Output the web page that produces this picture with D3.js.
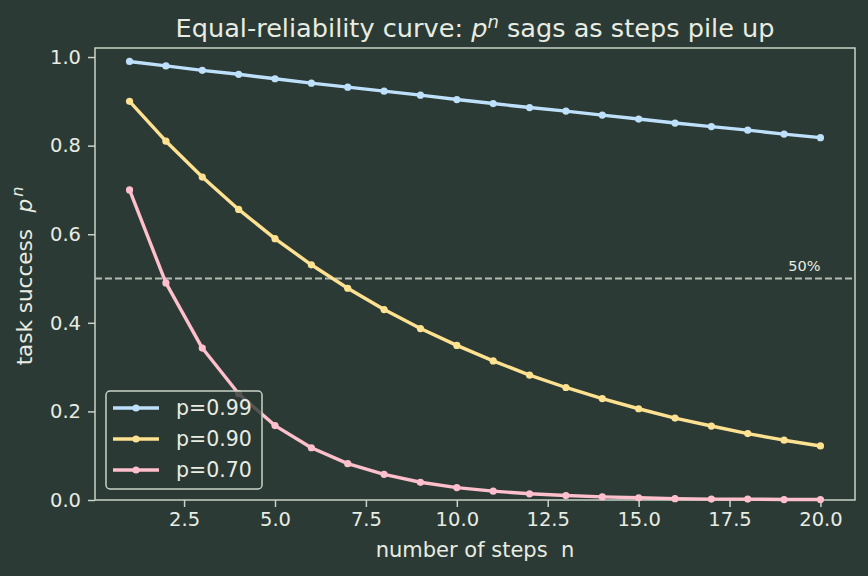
<!DOCTYPE html>
<html>
<head>
<meta charset="utf-8">
<style>
  body { margin: 0; background: #2b3a34; }
  text { font-family: "DejaVu Sans", sans-serif; white-space: pre; }
</style>
</head>
<body>
<div id="chart"></div>
<script src="https://d3js.org/d3.v7.min.js"></script>
<script>
// values
var steps = [1, 2, 3, 4, 5, 6, 7, 8, 9, 10, 11, 12, 13, 14, 15, 16, 17, 18, 19, 20];
var p99 = [0.990, 0.980, 0.970, 0.961, 0.951, 0.941, 0.932, 0.923, 0.914, 0.904,
           0.895, 0.886, 0.878, 0.869, 0.860, 0.851, 0.843, 0.835, 0.826, 0.818];
var p90 = [0.900, 0.810, 0.729, 0.656, 0.590, 0.531, 0.478, 0.430, 0.387, 0.349,
           0.314, 0.282, 0.254, 0.229, 0.206, 0.185, 0.167, 0.150, 0.135, 0.122];
var p70 = [0.700, 0.490, 0.343, 0.240, 0.168, 0.118, 0.082, 0.058, 0.040, 0.028,
           0.020, 0.014, 0.010, 0.007, 0.005, 0.003, 0.002, 0.002, 0.001, 0.001];
var seriesNames = ["p=0.99", "p=0.90", "p=0.70"];
var xTicks = [2.5, 5.0, 7.5, 10.0, 12.5, 15.0, 17.5, 20.0];
var yTicks = [0.0, 0.2, 0.4, 0.6, 0.8, 1.0];
var threshold = 0.5;

var colors = ["#bfe0fb", "#ffe291", "#ffbfcc"];
var fg = "#e8ece2", spine = "#c9d2c6", bg = "#2b3a34";

var W = 868, H = 576;
var margin = {top: 48, right: 13, bottom: 76, left: 95};
var width = W - margin.left - margin.right,
    height = H - margin.top - margin.bottom;

var svg = d3.select("#chart").append("svg")
    .attr("width", W).attr("height", H)
    .style("background", bg);

var g = svg.append("g")
    .attr("transform", "translate(" + margin.left + "," + margin.top + ")");

var x = d3.scaleLinear().domain([0.05, 20.95]).range([0, width]);
var y = d3.scaleLinear().domain([0, 1.0204]).range([height, 0]);

// axes
var xAxis = g.append("g")
    .attr("transform", "translate(0," + height + ")")
    .call(d3.axisBottom(x).tickValues(xTicks).tickFormat(d3.format(".1f")).tickSize(7).tickPadding(5));
var yAxis = g.append("g")
    .call(d3.axisLeft(y).tickValues(yTicks).tickFormat(d3.format(".1f")).tickSize(7).tickPadding(7));
[xAxis, yAxis].forEach(function(a) {
  a.select(".domain").remove();
  a.selectAll("line").attr("stroke", spine).attr("stroke-width", 1.5);
  a.selectAll("text").attr("fill", fg).style("font-size", "19.5px")
    .style("font-family", "DejaVu Sans, sans-serif");
});

// spines
g.append("rect")
  .attr("width", width).attr("height", height)
  .attr("fill", "none").attr("stroke", spine).attr("stroke-width", 1.5);

// 50% line
g.append("line")
  .attr("x1", 0).attr("x2", width)
  .attr("y1", y(threshold)).attr("y2", y(threshold))
  .attr("stroke", "#b3bcb3").attr("stroke-width", 1.8)
  .attr("stroke-dasharray", "7,3");
g.append("text")
  .attr("x", x(20)).attr("y", y(threshold) - 8)
  .attr("text-anchor", "end")
  .attr("fill", fg).style("font-size", "14.5px")
  .text("50%");

// series
var series = [p99, p90, p70];
var line = d3.line().x(function(d, i) { return x(steps[i]); }).y(function(d) { return y(d); });
series.forEach(function(vals, k) {
  g.append("path").datum(vals)
    .attr("d", line).attr("fill", "none")
    .attr("stroke", colors[k]).attr("stroke-width", 3.4)
    .attr("stroke-linejoin", "round");
  g.selectAll(".dot" + k).data(vals).enter().append("circle")
    .attr("cx", function(d, i) { return x(steps[i]); })
    .attr("cy", function(d) { return y(d); })
    .attr("r", 3.6).attr("fill", colors[k]);
});

// legend
var lg = g.append("g").attr("transform", "translate(11," + (391 - margin.top) + ")");
lg.append("rect")
  .attr("width", 156).attr("height", 98).attr("rx", 4)
  .attr("fill", bg).attr("fill-opacity", 0.8)
  .attr("stroke", spine).attr("stroke-width", 1.5);
seriesNames.forEach(function(name, k) {
  var yy = 17 + k * 31;
  lg.append("line").attr("x1", 7).attr("x2", 53).attr("y1", yy).attr("y2", yy)
    .attr("stroke", colors[k]).attr("stroke-width", 3.4);
  lg.append("circle").attr("cx", 30).attr("cy", yy).attr("r", 3.6).attr("fill", colors[k]);
  lg.append("text").attr("x", 70).attr("y", yy + 7)
    .attr("fill", fg).style("font-size", "20.5px").text(name);
});

// title
var title = svg.append("text")
  .attr("x", margin.left + width / 2).attr("y", 37)
  .attr("text-anchor", "middle")
  .attr("fill", fg).style("font-size", "25.6px");
title.append("tspan").text("Equal-reliability curve: ");
title.append("tspan").style("font-style", "italic").text("p");
title.append("tspan").attr("dy", -9).style("font-size", "18px").style("font-style", "italic").text("n");
title.append("tspan").attr("dy", 9).text(" sags as steps pile up");

// axis labels
svg.append("text")
  .attr("x", margin.left + width / 2).attr("y", 557)
  .attr("text-anchor", "middle")
  .attr("fill", fg).style("font-size", "21px")
  .text("number of steps  n");

var yl = svg.append("text")
  .attr("transform", "translate(32," + 276 + ") rotate(-90)")
  .attr("text-anchor", "middle")
  .attr("fill", fg).style("font-size", "21.5px");
yl.append("tspan").text("task success  ");
yl.append("tspan").attr("dx", 3).style("font-style", "italic").text("p");
yl.append("tspan").attr("dx", 2).attr("dy", -9).style("font-size", "16px").style("font-style", "italic").text("n");
</script>
</body>
</html>
